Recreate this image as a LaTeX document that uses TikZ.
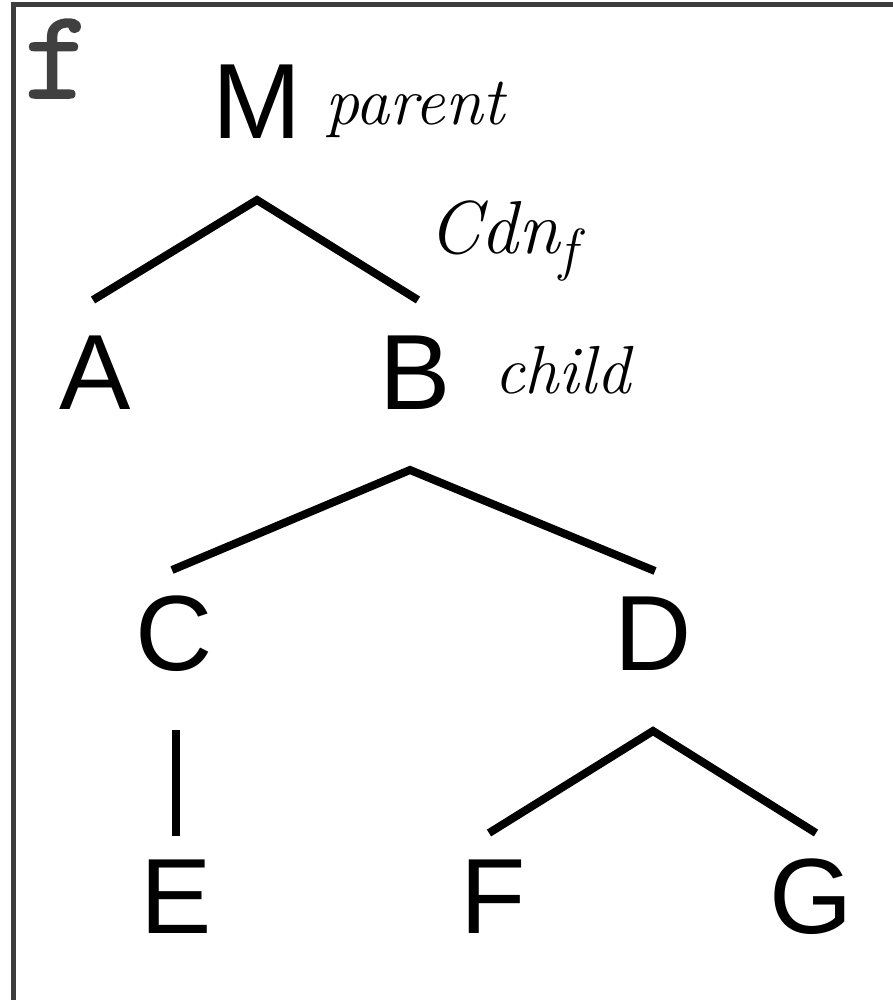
\documentclass[tikz,border=0pt]{standalone}
\usepackage{fontspec}
\newfontfamily\letterfont{Liberation Sans}
\newfontfamily\tagfont[FakeBold=1.2]{lmmono10-regular.otf}
\begin{document}
\begin{tikzpicture}[x=1pt,y=-1pt,
  letter/.style={inner sep=0pt,anchor=base,
    font=\letterfont\fontsize{107}{107}\selectfont},
  note/.style={inner sep=0pt,anchor=base west,
    font=\itshape\fontsize{68}{68}\selectfont},
  branch/.style={line width=8pt,line join=miter,line cap=butt},
  frame/.style={line width=5pt,draw=black!76}]
\useasboundingbox (0,0) rectangle (893,1000);

% outer frame (top and left edges visible)
\draw[frame] (900,5) -- (13.5,5) -- (13.5,1010);

% panel tag
\node[inner sep=0pt,anchor=base west,text=black!75,
  font=\tagfont\fontsize{128}{128}\selectfont] (tag) at (24,98) {f};

% tree nodes
\node[letter] (M) at (257,139) {M};
\node[letter] (A) at (95,409) {A};
\node[letter] (B) at (415,409) {B};
\node[letter] (C) at (174,670) {C};
\node[letter] (D) at (653,670) {D};
\node[letter] (E) at (176,933) {E};
\node[letter] (F) at (493,933) {F};
\node[letter] (G) at (811,933) {G};

% annotations
\node[note] (parent) at (325,125) {parent};
\node[note] (child) at (494,393) {child};
\node[inner sep=0pt,anchor=base west,
  font=\itshape\fontsize{75}{75}\selectfont] (cdn) at (428,253)
  {Cdn\raisebox{-16pt}{\fontsize{58}{58}\selectfont f}};

% branches
\draw[branch] ([shift={(-2,-109)}]A.base) -- ([shift={(0,61)}]M.base) -- ([shift={(3,-109)}]B.base);
\draw[branch] ([shift={(-2,-100)}]C.base) -- ([shift={(-5,61)}]B.base) -- ([shift={(2,-99)}]D.base);
\draw[branch] ([shift={(2,60)}]C.base) -- ([shift={(0,-97)}]E.base);
\draw[branch] ([shift={(-4,-100)}]F.base) -- ([shift={(0,61)}]D.base) -- ([shift={(5,-100)}]G.base);
\end{tikzpicture}
\end{document}
